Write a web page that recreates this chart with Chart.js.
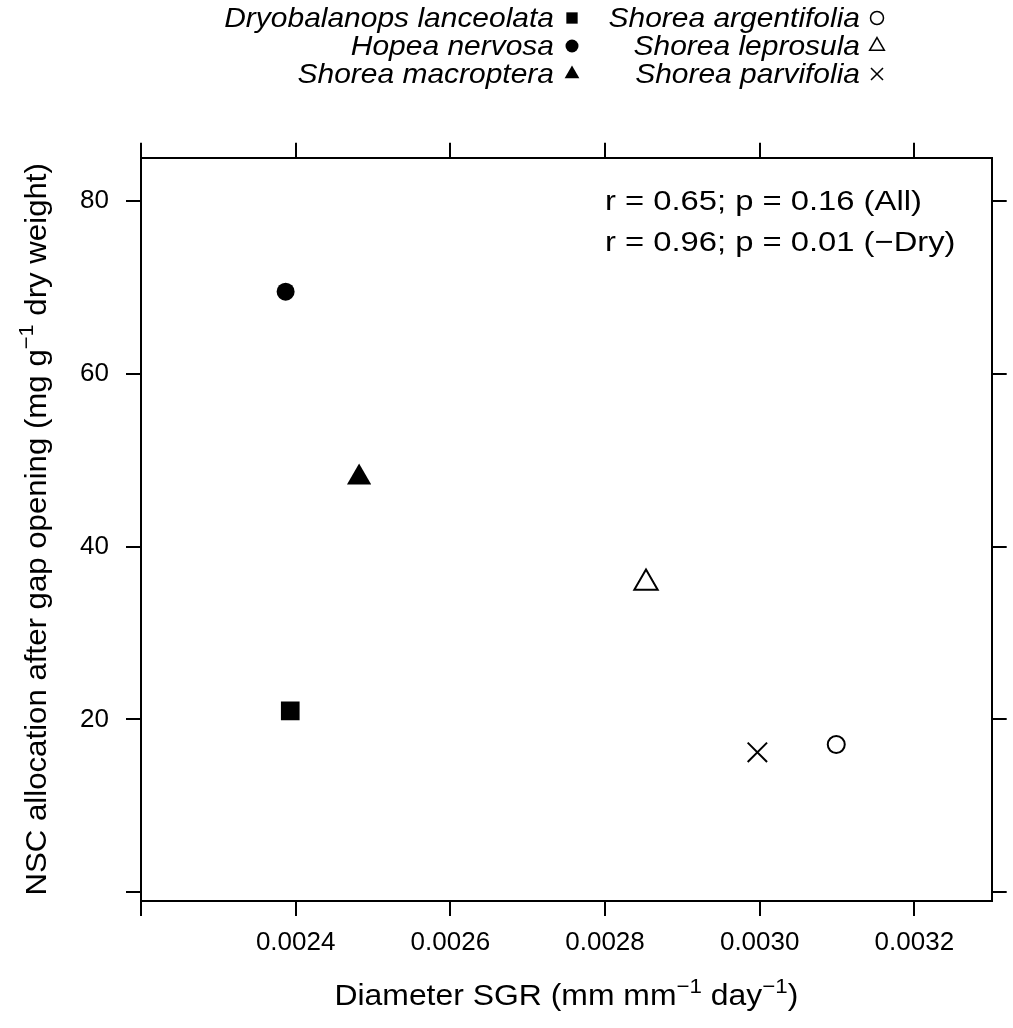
<!DOCTYPE html>
<html>
<head>
<meta charset="utf-8">
<script src="https://cdn.jsdelivr.net/npm/chart.js@4.4.1/dist/chart.umd.min.js"></script>
<style>
  html, body { margin: 0; padding: 0; background: #fff; }
  #wrap { width: 1013px; height: 1028px; }
</style>
</head>
<body>
<div id="wrap"><canvas id="chart" width="1013" height="1028"></canvas></div>
<script>
// species and values
var species = ['Dryobalanops lanceolata', 'Hopea nervosa', 'Shorea macroptera',
               'Shorea argentifolia', 'Shorea leprosula', 'Shorea parvifolia'];
var sgr = [0.002393, 0.002387, 0.002482, 0.003099, 0.002853, 0.002997];
var nsc = [21.0, 69.5, 48.0, 17.1, 35.8, 16.2];
var markers = ['rect', 'circle', 'triangle', 'circle', 'triangle', 'crossRot'];
var filled = [true, true, true, false, false, false];

var xTicks = [0.0022, 0.0024, 0.0026, 0.0028, 0.0030, 0.0032];
var xTickLabels = ['', '0.0024', '0.0026', '0.0028', '0.0030', '0.0032'];
var yTicks = [0, 20, 40, 60, 80];
var yTickLabels = ['', '20', '40', '60', '80'];
var stats = ['r = 0.65; p = 0.16 (All)', 'r = 0.96; p = 0.01 (\u2212Dry)'];

var markerSize = { rect: 13.2, circle: 9, triangle: 14, crossRot: 14.2 };
var keySize = { rect: 8, circle: 6.5, triangle: 8.5, crossRot: 8.5 };
var FONT = "'Liberation Sans', Arial, sans-serif";

function stretchText(ctx, str, x, y, align, sx) {
    ctx.save();
    ctx.translate(x, y);
    ctx.scale(sx, 1);
    ctx.textAlign = align;
    ctx.fillText(str, 0, 0);
    ctx.restore();
}

// text with superscript pieces, centred on x
function richText(ctx, parts, x, y, size, sx) {
    var w = 0;
    parts.forEach(function (p) {
        ctx.font = (p.sup ? size * 0.7 : size) + 'px ' + FONT;
        p.w = ctx.measureText(p.t).width;
        w += p.w;
    });
    ctx.save();
    ctx.translate(x, y);
    ctx.scale(sx, 1);
    ctx.textAlign = 'left';
    var cx = -w / 2;
    parts.forEach(function (p) {
        ctx.font = (p.sup ? size * 0.7 : size) + 'px ' + FONT;
        ctx.fillText(p.t, cx, p.sup ? -size * 0.42 : 0);
        cx += p.w;
    });
    ctx.restore();
}

var decor = {
    id: 'decor',
    afterDraw: function (chart) {
        var ctx = chart.ctx, a = chart.chartArea;
        ctx.save();
        ctx.textBaseline = 'alphabetic';

        // key at the top
        var rows = [27, 55, 83];
        var cols = [{ textRight: 554, sym: 572 }, { textRight: 860, sym: 877 }];
        species.forEach(function (name, i) {
            var c = cols[Math.floor(i / 3)], yy = rows[i % 3];
            ctx.font = 'italic 28px ' + FONT;
            ctx.fillStyle = '#000';
            stretchText(ctx, name, c.textRight, yy, 'right', 1.07);
            ctx.fillStyle = filled[i] ? '#000' : 'rgba(0,0,0,0)';
            ctx.strokeStyle = '#000';
            ctx.lineWidth = 1.5;
            Chart.helpers.drawPoint(ctx, { pointStyle: markers[i], radius: keySize[markers[i]],
                                           borderWidth: filled[i] ? 0 : 1.5 }, c.sym, yy - 9);
        });

        // correlation text
        ctx.fillStyle = '#000';
        ctx.font = '28px ' + FONT;
        stats.forEach(function (s, i) {
            stretchText(ctx, s, 605, 210 + i * 41, 'left', 1.17);
        });

        // axis titles
        richText(ctx, [{ t: 'Diameter SGR (mm mm' }, { t: '\u22121', sup: true }, { t: ' day' },
                       { t: '\u22121', sup: true }, { t: ')' }], (a.left + a.right) / 2, 1005, 29, 1.1);
        ctx.save();
        ctx.translate(46, (a.top + a.bottom) / 2);
        ctx.rotate(-Math.PI / 2);
        richText(ctx, [{ t: 'NSC allocation after gap opening (mg g' }, { t: '\u22121', sup: true },
                       { t: ' dry weight)' }], 0, 0, 30, 1.04);
        ctx.restore();
        ctx.restore();
    }
};

function axis(pos, values, labels, size) {
    var horiz = pos === 'top' || pos === 'bottom';
    var showLabels = pos === 'bottom' || pos === 'left';
    return {
        type: 'linear',
        position: pos,
        min: horiz ? 0.0022 : -1,
        max: horiz ? 0.0033 : 85,
        afterBuildTicks: function (s) {
            s.ticks = values.map(function (v) { return { value: v }; });
        },
        afterFit: function (s) {
            if (horiz) s.height = size; else s.width = size;
        },
        ticks: {
            display: showLabels,
            autoSkip: false,
            maxRotation: 0,
            padding: horiz ? 11 : 17,
            color: '#000',
            font: { family: FONT, size: 26 },
            callback: function (v, i) { return labels[i]; }
        },
        grid: { drawOnChartArea: false, drawTicks: true, tickLength: 15, color: '#000', lineWidth: 2 },
        border: { display: true, color: '#000', width: 2 }
    };
}

var ctx = document.getElementById('chart').getContext('2d');

var chart = new Chart(ctx, {
    type: 'scatter',
    data: {
        datasets: species.map(function (name, i) {
            return {
                label: name,
                data: [{ x: sgr[i], y: nsc[i] }],
                pointStyle: markers[i],
                pointRadius: markerSize[markers[i]] - (filled[i] ? 0 : 0.5),
                backgroundColor: filled[i] ? '#000' : 'rgba(0,0,0,0)',
                borderColor: '#000',
                borderWidth: filled[i] ? 0 : 2,
                pointHoverRadius: markerSize[markers[i]]
            };
        })
    },
    options: {
        responsive: false,
        animation: false,
        layout: { padding: 0 },
        plugins: { legend: { display: false }, tooltip: { enabled: false } },
        scales: {
            x: axis('bottom', xTicks, xTickLabels, 127),
            x2: axis('top', xTicks, xTickLabels, 157.7),
            y: axis('left', yTicks, yTickLabels, 141),
            y2: axis('right', yTicks, yTickLabels, 21.3)
        }
    },
    plugins: [decor]
});
</script>
</body>
</html>
